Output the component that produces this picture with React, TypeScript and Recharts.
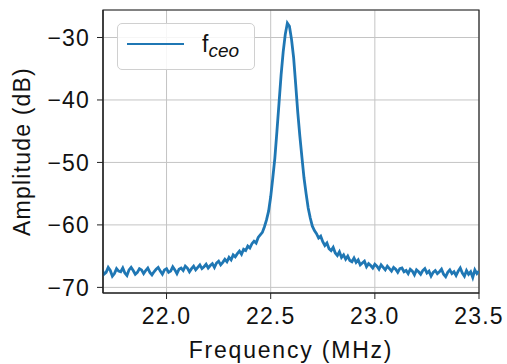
import { LineChart, Line, XAxis, YAxis, CartesianGrid, Legend, ReferenceArea } from "recharts";

// spectrum analyser trace, one value every 10 kHz starting at 21.69 MHz
const freqStart = 21.69;
const freqStep = 0.01;
const amplitude = [
  // 21.69 - 22.18 noise floor
  -67.1, -67.9, -67.6, -66.8, -67.3, -68.2, -67.8, -67.0, -67.4, -67.5,
  -66.9, -67.7, -68.1, -67.2, -66.8, -67.3, -67.9, -67.6, -67.0, -67.2,
  -67.8, -67.3, -66.9, -67.6, -68.0, -67.5, -67.1, -66.8, -67.4, -67.9,
  -67.2, -67.0, -67.6, -67.4, -66.7, -67.2, -67.8, -67.1, -66.9, -67.3,
  -66.6, -66.9, -67.5, -67.0, -66.6, -67.2, -66.8, -66.4, -67.0, -66.7,
  // 22.19 - 22.48 rising skirt
  -66.3, -66.9, -66.5, -66.2, -66.8, -66.1, -65.8, -66.4, -66.0, -65.5,
  -65.9, -65.2, -65.6, -64.8, -65.1, -64.6, -64.2, -64.7, -63.9, -64.1,
  -63.4, -63.7, -63.0, -62.6, -62.9, -62.0, -61.6, -61.2, -60.3, -59.2,
  // 22.49 - 22.70 peak
  -57.8, -55.5, -52.5, -49.3, -45.0, -40.5, -36.0, -32.3, -29.5, -27.7,
  -28.2, -30.3, -33.2, -37.5, -42.0, -45.8, -49.2, -52.5, -55.0, -57.3,
  -58.9, -60.2,
  // 22.71 - 23.50 falling skirt and floor
  -60.9, -61.4, -62.1, -61.8, -62.7, -63.3, -62.9, -63.8, -64.1, -63.6,
  -64.5, -64.9, -64.3, -65.2, -64.8, -65.5, -65.0, -65.7, -65.9, -65.3,
  -66.0, -65.6, -66.4, -66.1, -65.8, -66.7, -66.2, -66.5, -66.9, -66.3,
  -66.6, -67.1, -66.4, -66.8, -67.2, -66.6, -67.0, -67.4, -66.8, -67.1,
  -67.6, -67.0, -66.9, -67.5, -67.3, -67.8, -67.1, -67.4, -68.0, -67.2,
  -67.5, -67.9, -67.3, -67.0, -67.7, -67.4, -68.2, -67.6, -67.3, -67.8,
  -67.5, -67.1, -67.9, -68.3, -67.6, -67.2, -67.8, -67.5, -68.1, -67.4,
  -66.9, -67.7, -68.2, -67.3, -67.9, -67.5, -68.4, -67.2, -67.8, -67.4,
];
const xTicks = [22.0, 22.5, 23.0, 23.5];
const yTicks = [-70, -60, -50, -40, -30];
const xDomain = [21.695, 23.5];
const yDomain = [-70.9, -25.6];

const data = amplitude.map((a, i) => ({
  freq: +(freqStart + i * freqStep).toFixed(2),
  amp: a,
}));

const FONT = "'Liberation Sans', Arial, Helvetica, sans-serif";
const tickStyle = { fontSize: 23, fill: "#111", fontFamily: FONT, letterSpacing: 1.2 };

const legendBox = () => (
  <div
    style={{
      width: 136,
      height: 45,
      border: "1px solid #d0d0d0",
      borderRadius: 5,
      background: "rgba(255,255,255,0.85)",
      position: "relative",
      fontFamily: FONT,
    }}
  >
    <div
      style={{
        position: "absolute",
        left: 9,
        top: 19,
        width: 57,
        height: 0,
        borderTop: "2.8px solid #1f77b4",
      }}
    />
    <div
      style={{
        position: "absolute",
        left: 84,
        top: 5,
        fontSize: 23,
        color: "#111",
        lineHeight: "30px",
        whiteSpace: "nowrap",
      }}
    >
      f<span style={{ fontStyle: "italic", fontSize: 19, position: "relative", top: 5 }}>ceo</span>
    </div>
  </div>
);

const yLabel = (props: any) => {
  const vb = props.viewBox;
  const x = vb.x + 30;
  const y = vb.y + vb.height / 2;
  return (
    <text
      x={x}
      y={y}
      transform={`rotate(-90, ${x}, ${y})`}
      textAnchor="middle"
      fontSize={23}
      fontFamily={FONT}
      letterSpacing={1.2}
      fill="#111"
    >
      Amplitude (dB)
    </text>
  );
};

export default function App() {
  return (
    <div style={{ position: "absolute", left: 0, top: 0, background: "#fff" }}>
      <LineChart
        width={507}
        height={364}
        data={data}
        margin={{ top: 10, right: 28, bottom: 0, left: 0 }}
      >
        <CartesianGrid stroke="#c4c4c4" strokeWidth={1} />
        <XAxis
          dataKey="freq"
          type="number"
          domain={xDomain}
          allowDataOverflow
          ticks={xTicks}
          tickFormatter={(v: number) => v.toFixed(1)}
          tick={tickStyle}
          tickSize={6}
          tickMargin={9}
          height={71}
          axisLine={{ stroke: "#222", strokeWidth: 1.2 }}
          tickLine={{ stroke: "#222" }}
          label={{
            value: "Frequency (MHz)",
            position: "insideBottom",
            offset: 6,
            fontSize: 23,
            fontFamily: FONT,
            letterSpacing: 1.8,
            fill: "#111",
          }}
        />
        <YAxis
          type="number"
          domain={yDomain}
          allowDataOverflow
          ticks={yTicks}
          tickFormatter={(v: number) => String(v).replace("-", "\u2212")}
          tick={tickStyle}
          tickSize={6}
          tickMargin={7}
          width={103}
          axisLine={{ stroke: "#222", strokeWidth: 1.2 }}
          tickLine={{ stroke: "#222" }}
          label={yLabel}
        />
        {/* frame around the plot area */}
        <ReferenceArea
          x1={xDomain[0]}
          x2={xDomain[1]}
          y1={yDomain[0]}
          y2={yDomain[1]}
          fill="none"
          fillOpacity={0}
          stroke="#222"
          strokeWidth={1.2}
          ifOverflow="visible"
        />
        <Legend
          layout="horizontal"
          verticalAlign="middle"
          align="center"
          content={legendBox}
          wrapperStyle={{ left: 117, top: 23, width: 138, height: 47 }}
        />
        <Line
          isAnimationActive={false}
          type="linear"
          dataKey="amp"
          name="fceo"
          stroke="#1f77b4"
          strokeWidth={2.8}
          dot={false}
        />
      </LineChart>
    </div>
  );
}
